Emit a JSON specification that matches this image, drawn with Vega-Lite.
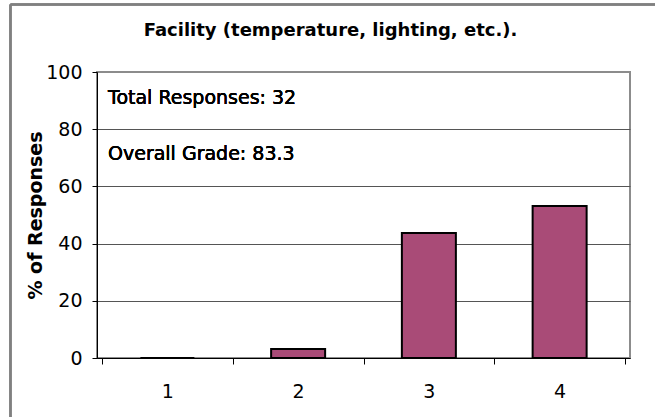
{
  "$schema": "https://vega.github.io/schema/vega-lite/v6.json",
  "width": 533,
  "height": 286,
  "autosize": {"type": "none"},
  "padding": {"left": 97, "top": 72, "right": 25, "bottom": 59},
  "background": "white",
  "title": {
    "text": "Facility (temperature, lighting, etc.).",
    "font": "DejaVu Sans",
    "fontSize": 18,
    "fontWeight": "bold",
    "color": "black",
    "anchor": "middle",
    "frame": "group",
    "dx": -33,
    "baseline": "alphabetic",
    "offset": -50
  },
  "config": {
    "view": {"stroke": "#8c8c8c", "strokeWidth": 2},
    "axis": {"labelFont": "DejaVu Sans", "titleFont": "DejaVu Sans"}
  },
  "data": {
    "values": [
      {"rating": 1, "pct": 0},
      {"rating": 2, "pct": 3.125},
      {"rating": 3, "pct": 43.75},
      {"rating": 4, "pct": 53.125}
    ]
  },
  "layer": [
    {
      "mark": {"type": "rule", "stroke": "#808080", "strokeWidth": 2, "clip": false},
      "encoding": {
        "x": {"datum": -0.2, "scale": {"domain": [0.5, 4.5], "nice": false, "zero": false}},
        "x2": {"datum": 6},
        "y": {"datum": 123.6, "scale": {"domain": [0, 100], "nice": false}}
      }
    },
    {
      "mark": {"type": "rule", "stroke": "#808080", "strokeWidth": 2, "clip": false},
      "encoding": {
        "x": {"datum": -0.2, "scale": {"domain": [0.5, 4.5], "nice": false, "zero": false}},
        "y": {"datum": 123.6, "scale": {"domain": [0, 100], "nice": false}},
        "y2": {"datum": -60}
      }
    },
    {
      "mark": {"type": "bar", "width": 54, "color": "#A94B77", "stroke": "black", "strokeWidth": 2},
      "encoding": {
        "x": {
          "field": "rating",
          "type": "quantitative",
          "scale": {"domain": [0.5, 4.5], "nice": false, "zero": false},
          "axis": {
            "values": [0.5, 1, 1.5, 2, 2.5, 3, 3.5, 4, 4.5],
            "grid": false,
            "title": null,
            "labelExpr": "datum.value % 1 === 0 ? format(datum.value, 'd') : ''",
            "labelOverlap": false,
            "labelFlush": false,
            "tickOpacity": {"condition": {"test": "datum.value % 1 === 0", "value": 0}, "value": 1},
            "tickSize": 6,
            "tickColor": "black",
            "domainColor": "black",
            "labelPadding": 18,
            "labelFontSize": 19,
            "labelColor": "black"
          }
        },
        "y": {
          "field": "pct",
          "type": "quantitative",
          "scale": {"domain": [0, 100], "nice": false},
          "axis": {
            "values": [0, 20, 40, 60, 80, 100],
            "title": "% of Responses",
            "grid": true,
            "gridColor": {"condition": {"test": "datum.value === 100", "value": "#8c8c8c"}, "value": "#555555"},
            "domainColor": "black",
            "tickColor": "black",
            "tickSize": 5,
            "labelPadding": 10,
            "labelFontSize": 19,
            "labelColor": "black",
            "titleFontSize": 19,
            "titleFontWeight": "bold",
            "titleColor": "black",
            "titleX": -56,
            "titleBaseline": "alphabetic"
          }
        }
      }
    },
    {
      "mark": {"type": "text", "align": "left", "baseline": "middle", "dx": 6, "fontSize": 19, "font": "DejaVu Sans", "color": "black"},
      "encoding": {
        "x": {"datum": 0.5},
        "y": {"datum": 90.8},
        "text": {"value": "Total Responses: 32"}
      }
    },
    {
      "mark": {"type": "text", "align": "left", "baseline": "middle", "dx": 6, "fontSize": 19, "font": "DejaVu Sans", "color": "black"},
      "encoding": {
        "x": {"datum": 0.5},
        "y": {"datum": 71.5},
        "text": {"value": "Overall Grade: 83.3"}
      }
    }
  ]
}
